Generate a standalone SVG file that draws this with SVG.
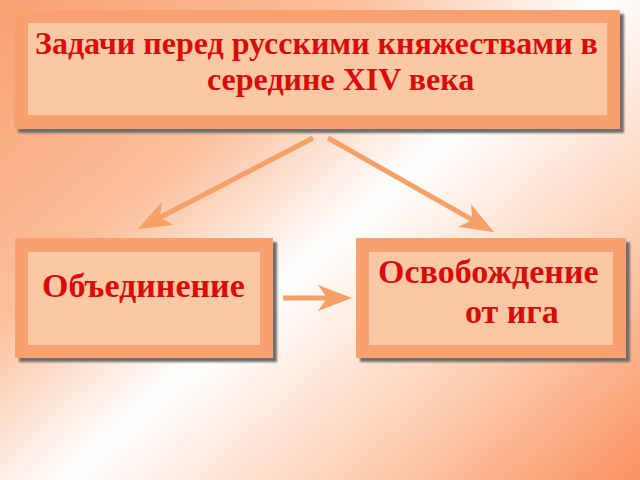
<svg xmlns="http://www.w3.org/2000/svg" width="640" height="480" viewBox="0 0 640 480">
  <defs>
    <linearGradient id="bg" gradientUnits="userSpaceOnUse" x1="334" y1="-298" x2="867" y2="299">
      <stop offset="0" stop-color="#F9A070"/>
      <stop offset="0.3" stop-color="#FBC09C"/>
      <stop offset="0.5" stop-color="#FFFFFF"/>
      <stop offset="0.75" stop-color="#FDCDB0"/>
      <stop offset="1" stop-color="#F98C58"/>
    </linearGradient>
    <filter id="blur" x="-5%" y="-5%" width="110%" height="110%">
      <feGaussianBlur stdDeviation="1.2"/>
    </filter>
    <marker id="ah" markerUnits="userSpaceOnUse" markerWidth="34" markerHeight="26" viewBox="0 0 34 26" refX="9" refY="13" orient="auto">
      <path d="M0,0 L34,13 L0,26 L9,13 Z" fill="#F5A066"/>
    </marker>
    <style>
      .shadow { fill: #6E6E6E; filter: url(#blur); }
      .outer { fill: #F9A070; }
      .inner { fill: #FAC8A2; }
      .t { font-family: "Liberation Serif", "Times New Roman", serif; font-weight: bold; fill: #D80C0C; }
      .conn { stroke: #F5A066; stroke-width: 5; fill: none; marker-end: url(#ah); }
    </style>
  </defs>
  <rect width="640" height="480" fill="url(#bg)"/>

  <g id="node-top">
    <rect class="shadow" x="18" y="14" width="606" height="119"/>
    <rect class="outer" x="14" y="10" width="606" height="119"/>
    <rect class="inner" x="28" y="23" width="579" height="92"/>
    <text class="t" x="35" y="54" font-size="32">Задачи перед русскими княжествами в</text>
    <text class="t" x="207" y="90" font-size="32">середине XIV века</text>
  </g>

  <g id="node-left">
    <rect class="shadow" x="19" y="242" width="258" height="120"/>
    <rect class="outer" x="15" y="238" width="258" height="120"/>
    <rect class="inner" x="28" y="252" width="232" height="93"/>
    <text class="t" x="42" y="297" font-size="34">Объединение</text>
  </g>

  <g id="node-right">
    <rect class="shadow" x="360" y="242" width="270" height="120"/>
    <rect class="outer" x="356" y="238" width="270" height="120"/>
    <rect class="inner" x="369" y="252" width="244" height="93"/>
    <text class="t" x="378" y="283" font-size="34">Освобождение</text>
    <text class="t" x="465" y="323" font-size="34">от ига</text>
  </g>

  <g id="connectors">
    <line class="conn" x1="313" y1="138" x2="159.9" y2="217.5"/>
    <line class="conn" x1="328" y1="138" x2="472.4" y2="219.9"/>
    <line class="conn" x1="283" y1="298" x2="327" y2="298"/>
  </g>
</svg>
